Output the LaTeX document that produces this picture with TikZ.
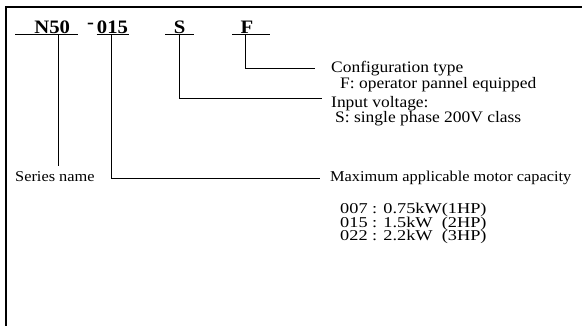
\documentclass[tikz,border=0pt]{standalone}
\usepackage{fontspec}
\setmainfont{Liberation Serif}[FakeStretch=1.09]
\newfontfamily\specfont{Liberation Serif}[FakeStretch=1.22]
\usetikzlibrary{calc, positioning}

\begin{document}
\begin{tikzpicture}[
  x=1pt, y=-1pt,
  code/.style={font=\fontsize{19}{19}\selectfont\bfseries, inner sep=0pt, anchor=base},
  desc/.style={font=\fontsize{16}{16}\selectfont, inner sep=0pt, anchor=base west},
  note/.style={font=\fontsize{15}{15}\selectfont, inner sep=0pt, anchor=base west},
  spec/.style={font=\specfont\fontsize{15}{15}\selectfont, inner sep=0pt, anchor=base west},
  rule/.style={line width=0.9pt},
  link/.style={line width=0.8pt},
  frame/.style={line width=1.6pt}
]
\useasboundingbox (0,0) rectangle (582,326);
\draw[frame] (5.7,326) -- (5.7,7) -- (582,7);

% model code
\node[code] (n50)  at (52.2,33.3) {N50};
\node[code] (dash) at (90.5,29)   {-};
\node[code] (c015) at (112.5,33.3) {015};
\node[code] (cS)   at (179.7,33.3) {S};
\node[code] (cF)   at (247,33.3)   {F};

\draw[rule] (15,34.7)    -- (78.3,34.7);
\draw[rule] (96.7,34.7)  -- (129.3,34.7);
\draw[rule] (165,34.7)   -- (194,34.7);
\draw[rule] (232.3,34.7) -- (270,34.7);

\coordinate (dN50) at (58.3,34.7);
\coordinate (d015) at (111,34.7);
\coordinate (dS)   at (179.3,34.7);
\coordinate (dF)   at (245,34.7);

% explanations
\node[desc] (cfg)  at (331,72.3) {Configuration type};
\node[desc] (fop)  at ($(cfg.base west)+(9,16)$) {F: operator pannel equipped};
\node[desc] (volt) at (331,107.7) {Input voltage:};
\node[desc] (sph)  at ($(volt.base west)+(4,15.3)$) {S: single phase 200V class};

\node[note] (series) at (15,182)    {Series name};
\node[note] (maxcap) at (330,181.7) {Maximum applicable motor capacity};

\node[spec] (r007) at ($(maxcap.base west)+(10,31.6)$) {007 : 0.75kW(1HP)};
\node[spec] (r015) at ($(r007.base west)+(0,13.8)$) {015 : 1.5kW~~(2HP)};
\node[spec] (r022) at ($(r015.base west)+(0,13.8)$) {022 : 2.2kW~~(3HP)};

% connectors
\draw[link] (dF) |- ([xshift=-16pt]cfg.west);
\draw[link] (dS) |- ([shift={(-9pt,5pt)}]volt.west);
\draw[link] (dN50) -- ([yshift=6pt]series.north -| dN50);
\draw[link] (d015) |- ([xshift=-10pt]maxcap.west);

\end{tikzpicture}
\end{document}
